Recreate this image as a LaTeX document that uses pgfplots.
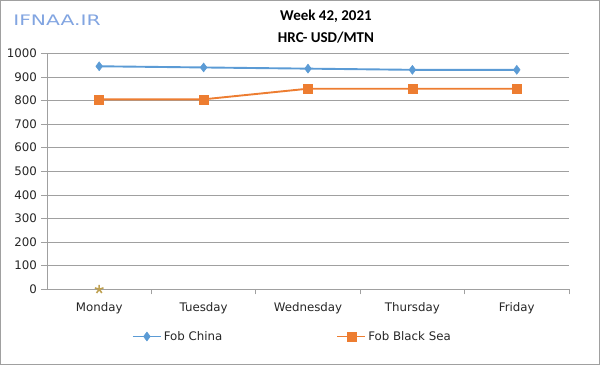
\documentclass[border=0pt]{standalone}
\usepackage{fontspec}
\setmainfont{DejaVu Sans}
\newfontfamily\titlefont{Carlito}
\usepackage{pgfplots}
\pgfplotsset{compat=1.18}
\usetikzlibrary{plotmarks}
\definecolor{cblue}{RGB}{91,155,213}
\definecolor{corange}{RGB}{237,125,49}
\definecolor{cstar}{RGB}{190,160,80}
\definecolor{cgrid}{RGB}{160,160,160}
\definecolor{cwm}{RGB}{130,165,225}
\begin{document}
\begin{tikzpicture}
\begin{axis}[
  name=ax, at={(0,0)}, anchor=south west,
  scale only axis, width=522pt, height=236pt,
  xmin=0.5, xmax=5.5, ymin=0, ymax=1000,
  xtick={1,2,3,4,5},
  xticklabels={Monday,Tuesday,Wednesday,Thursday,Friday},
  minor xtick={1.5,2.5,3.5,4.5,5.5},
  ytick={0,100,...,1000},
  major x tick style={draw=none},
  minor tick length=5pt,
  major tick length=6pt,
  tick align=outside,
  tick style={cgrid, line width=0.8pt},
  axis x line*=bottom, axis y line*=left,
  axis line style={cgrid, line width=0.8pt, -},
  ymajorgrids, grid style={cgrid, line width=0.8pt},
  clip=false,
  tick label style={font=\fontsize{11.8}{13}\selectfont, text=black!85},
  xticklabel style={yshift=-4pt},
  yticklabel style={xshift=-0.5pt},
  /pgf/number format/assume math mode=true,
  /pgf/number format/1000 sep={},
  legend columns=2,
  legend style={at={(0.47,-0.2)}, anchor=center, draw=none, fill=none,
    font=\fontsize{11.8}{13}\selectfont, text=black!85,
    /tikz/every even column/.append style={column sep=112pt}},
  legend cell align=left,
  legend image code/.code={\draw[mark repeat=2,mark phase=2] plot coordinates {(0pt,0pt)(14pt,0pt)(28pt,0pt)};},
]
\addplot[cblue, line width=1.9pt, mark=diamond*, mark size=4.5pt, mark options={fill=cblue, line width=0.5pt}]
  coordinates {(1,945) (2,940) (3,935) (4,930) (5,930)};
\addlegendentry{Fob China}
\addplot[corange, line width=1.9pt, mark=square*, mark size=4.5pt, mark options={fill=corange, line width=0.5pt}]
  coordinates {(1,805) (2,805) (3,850) (4,850) (5,850)};
\addlegendentry{Fob Black Sea}
\addplot[only marks, cstar, mark=star, mark size=4.5pt, mark options={line width=1.6pt}, forget plot]
  coordinates {(1,0)};
\end{axis}
\begin{scope}[shift={(ax.south west)}, x=1pt, y=1pt]
\draw[cgrid, line width=1pt] (-46.5,-75.2) rectangle (552.5,288.8);
\node[font=\titlefont\bfseries\fontsize{15}{16}\selectfont] at (279,273.3) {Week 42, 2021};
\node[font=\titlefont\bfseries\fontsize{15}{16}\selectfont] at (279,251.8) {HRC- USD/MTN};
\node[text=cwm, font=\fontsize{14.5}{16}\selectfont] at (10,269.3) {\scalebox{1.4}[1]{IFNAA.IR}};
\end{scope}
\end{tikzpicture}
\end{document}
